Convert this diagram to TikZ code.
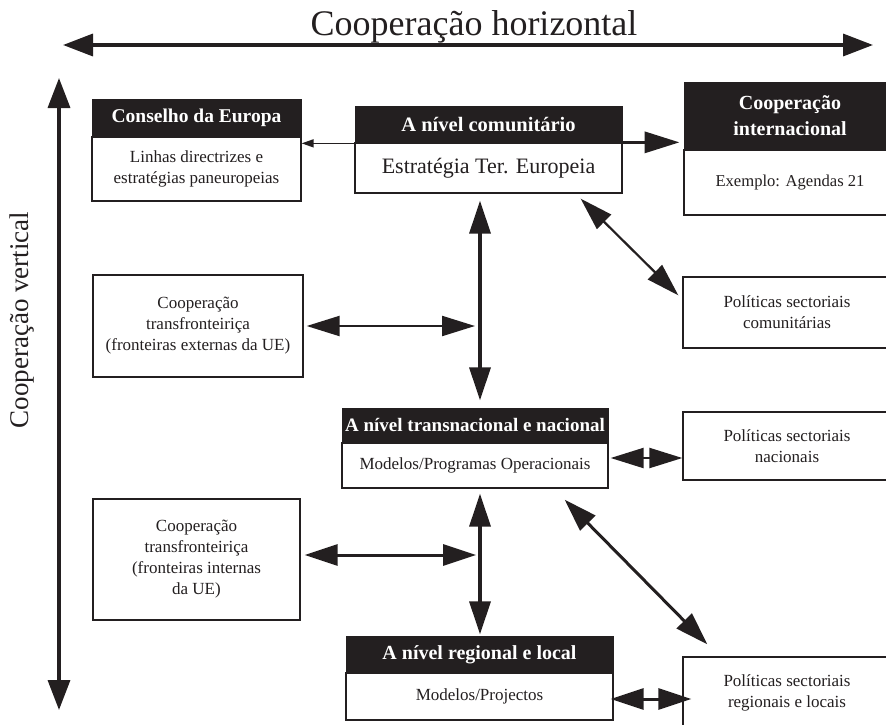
\documentclass[tikz,border=0pt]{standalone}
\usepackage{fontspec}
\setmainfont{Liberation Serif}
\usetikzlibrary{arrows.meta,calc}
\definecolor{ink}{RGB}{35,31,32}
\begin{document}
\begin{tikzpicture}[x=1pt,y=-1pt,
  hd/.style={draw=ink, fill=ink, text=white, font=\fontsize{19.5}{25}\selectfont\bfseries, inner sep=0pt, align=center, line width=1pt},
  bd/.style={draw=ink, fill=white, text=ink, font=\fontsize{17}{21}\selectfont, inner sep=0pt, align=center, line width=1.3pt},
  dbl/.style={draw=ink, line width=3pt, {Triangle[length=33pt,width=21pt]}-{Triangle[length=33pt,width=21pt]}},
  dblthin/.style={draw=ink, line width=2.2pt, {Triangle[length=33pt,width=20pt]}-{Triangle[length=33pt,width=20pt]}},
  axis/.style={draw=ink, line width=3.5pt, {Triangle[length=30pt,width=22pt]}-{Triangle[length=30pt,width=22pt]}},
  lbl/.style={text=ink, inner sep=0pt}
]
\useasboundingbox (0,0) rectangle (886,725);
\clip (0,0) rectangle (886,725);

% axes
\coordinate (hl) at (63,45);
\coordinate (hr) at (873,45);
\draw[axis] (hl) -- (hr);
\node[lbl, font=\fontsize{36}{36}\selectfont, anchor=base] (hlabel) at (474,36) {Cooperação horizontal};
\coordinate (vt) at (59,78);
\coordinate (vb) at (59,710);
\draw[axis] (vt) -- (vb);
\node[lbl, font=\fontsize{27}{27}\selectfont, rotate=90, anchor=base] (vlabel) at (28,320) {Cooperação vertical};

% boxes
\node[bd, minimum width=209pt, minimum height=64pt] (cebody) at (196.5,169) {Linhas directrizes e\\estratégias paneuropeias};
\node[hd, minimum width=209pt, minimum height=36pt, anchor=south] (cehead) at (cebody.north) {Conselho da Europa};

\node[bd, minimum width=267pt, minimum height=50pt, font=\fontsize{22}{24}\selectfont] (combody) at (488.5,168) {Estratégia Ter. Europeia};
\node[hd, minimum width=267pt, minimum height=35pt, anchor=south, font=\fontsize{20.5}{25}\selectfont\bfseries] (comhead) at (combody.north) {A nível comunitário};

\node[bd, minimum width=212pt, minimum height=65pt, font=\fontsize{16.6}{20}\selectfont] (intbody) at (790,182.5) {Exemplo: Agendas 21};
\node[hd, minimum width=212pt, minimum height=66pt, anchor=south, font=\fontsize{20}{26}\selectfont\bfseries] (inthead) at (intbody.north) {Cooperação\\internacional};

\node[bd, minimum width=210pt, minimum height=102pt] (extbox) at (198,326) {Cooperação\\transfronteiriça\\(fronteiras externas da UE)};

\node[bd, minimum width=208pt, minimum height=71pt] (polcom) at (787,312.5) {Políticas sectoriais\\comunitárias};

\node[bd, minimum width=266pt, minimum height=45pt] (transbody) at (475,465.5) {Modelos/Programas Operacionais};
\node[hd, minimum width=266pt, minimum height=33pt, anchor=south, font=\fontsize{19}{25}\selectfont\bfseries] (transhead) at (transbody.north) {A nível transnacional e nacional};

\node[bd, minimum width=208pt, minimum height=68pt] (polnat) at (787,446) {Políticas sectoriais\\nacionais};

\node[bd, minimum width=207pt, minimum height=121pt] (intbox) at (196.5,559.5) {Cooperação\\transfronteiriça\\(fronteiras internas\\da UE)};

\node[bd, minimum width=267pt, minimum height=47pt] (regbody) at (479.5,696.5) {Modelos/Projectos};
\node[hd, minimum width=267pt, minimum height=35pt, anchor=south, font=\fontsize{20}{25}\selectfont\bfseries] (reghead) at (regbody.north) {A nível regional e local};

\node[bd, minimum width=208pt, minimum height=72pt] (polreg) at (787,693) {Políticas sectoriais\\regionais e locais};

% connectors
\coordinate (vx) at (480,0);
\draw[draw=ink, line width=1.5pt, -{Triangle[length=12pt,width=8pt]}] ($(combody.north west)+(0,1)$) -- ($(cebody.east |- combody.north west)+(0,1)$);
\draw[draw=ink, line width=3.5pt, -{Triangle[length=35pt,width=21pt]}] (comhead.south east) -- ($(inthead.west |- comhead.south east)+(-4,0)$);
\draw[dbl, line width=3.5pt] ($(combody.south -| vx)+(0,7)$) -- ($(transhead.north -| vx)+(0,-8)$);
\draw[dblthin] ($(extbox.east)+(3,0)$) -- ($(vx |- extbox.east)+(-5,0)$);
\draw[dblthin] ($(combody.south east)+(-42,5)$) -- ($(polcom.north west)+(-4,19)$);
\draw[dblthin] ($(transbody.east)+(2,-7.5)$) -- ($(polnat.west |- transbody.east)+(0,-7.5)$);
\draw[dbl, line width=3.5pt] ($(transbody.south -| vx)+(0,5)$) -- ($(reghead.north -| vx)+(0,-2)$);
\draw[dbl] ($(intbox.east)+(4,-4.5)$) -- ($(vx |- intbox.east)+(-4,-4.5)$);
\draw[dbl] ($(transbody.south east)+(-44,11)$) -- ($(polreg.north west)+(25,-12)$);
\draw[dbl] ($(regbody.east)+(-3,2.5)$) -- ($(polreg.west |- regbody.east)+(9,2.5)$);
\end{tikzpicture}
\end{document}
